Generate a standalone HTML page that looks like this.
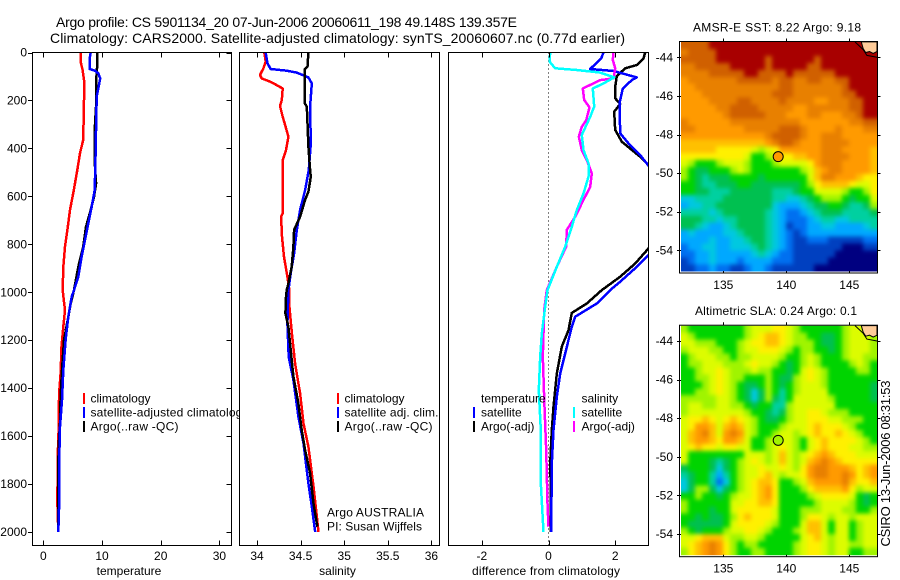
<!DOCTYPE html>
<html>
<head>
<meta charset="utf-8">
<title>Argo profile</title>
<style>
html,body{margin:0;padding:0;background:#fff;}
svg{display:block;font-family:"Liberation Sans",sans-serif;font-size:12px;fill:#000;}
text{fill:#000;}
</style>
</head>
<body>
<svg id="chart" xmlns="http://www.w3.org/2000/svg" width="900" height="580" viewBox="0 0 900 580">
  <defs>
    <clipPath id="clip-temp"><rect x="32.5" y="52.5" width="199" height="493"/></clipPath>
    <clipPath id="clip-sal"><rect x="239.5" y="52.5" width="200" height="493"/></clipPath>
    <clipPath id="clip-diff"><rect x="448.5" y="52.5" width="200" height="493"/></clipPath>
    <clipPath id="clip-map-sst"><rect x="681" y="42" width="196.5" height="229.5"/></clipPath>
    <clipPath id="clip-map-sla"><rect x="681" y="325.7" width="196.5" height="229.5"/></clipPath>
    <filter id="soften" filterUnits="userSpaceOnUse" x="640" y="0" width="260" height="580" color-interpolation-filters="sRGB">
      <feGaussianBlur stdDeviation="2"/>
    </filter>
  </defs>
  <rect x="0" y="0" width="900" height="580" fill="#fff"/>
  <text x="56" y="27" font-size="14" textLength="461" lengthAdjust="spacing">Argo profile: CS 5901134_20 07-Jun-2006 20060611_198 49.148S 139.357E</text>
  <text x="50" y="43" font-size="14" textLength="575" lengthAdjust="spacing">Climatology: CARS2000. Satellite-adjusted climatology: synTS_20060607.nc (0.77d earlier)</text>

  <g id="panel-temp">
    <g id="marks-temp" clip-path="url(#clip-temp)"></g>
    <g id="ticks-temp"></g>
    <rect x="32.5" y="52.5" width="199" height="493" fill="none" stroke="#000"/>
    <g>
      <rect x="83" y="393" width="2" height="11" fill="#f00"/>
      <rect x="83" y="407" width="2" height="11" fill="#00f"/>
      <rect x="83" y="421" width="2" height="11" fill="#000"/>
      <text x="90.5" y="402.5">climatology</text>
      <text x="90.5" y="416.5" textLength="158" lengthAdjust="spacing">satellite-adjusted climatology</text>
      <text x="90.5" y="430.5" textLength="88" lengthAdjust="spacing">Argo(..raw -QC)</text>
    </g>
    <text x="129" y="575" text-anchor="middle">temperature</text>
  </g>

  <g id="panel-sal">
    <rect x="239.5" y="52.5" width="200" height="493" fill="#fff"/>
    <g id="marks-sal" clip-path="url(#clip-sal)"></g>
    <g id="ticks-sal"></g>
    <rect x="239.5" y="52.5" width="200" height="493" fill="none" stroke="#000"/>
    <g>
      <rect x="337" y="393" width="2" height="11" fill="#f00"/>
      <rect x="337" y="407" width="2" height="11" fill="#00f"/>
      <rect x="337" y="421" width="2" height="11" fill="#000"/>
      <text x="344.5" y="402.5">climatology</text>
      <text x="344.5" y="416.5" textLength="94" lengthAdjust="spacing">satellite adj. clim.</text>
      <text x="344.5" y="430.5" textLength="88" lengthAdjust="spacing">Argo(..raw -QC)</text>
    </g>
    <text x="327" y="516.5" textLength="97" lengthAdjust="spacing">Argo AUSTRALIA</text>
    <text x="327" y="530.5" textLength="95" lengthAdjust="spacing">PI: Susan Wijffels</text>
    <text x="337.5" y="575" text-anchor="middle">salinity</text>
  </g>

  <g id="panel-diff">
    <rect x="448.5" y="52.5" width="200" height="493" fill="#fff"/>
    <line x1="548.5" y1="52.5" x2="548.5" y2="545.5" stroke="#000" stroke-width="1" stroke-dasharray="1 3"/>
    <g id="marks-diff" clip-path="url(#clip-diff)"></g>
    <g id="ticks-diff"></g>
    <rect x="448.5" y="52.5" width="200" height="493" fill="none" stroke="#000"/>
    <g>
      <text x="481" y="402.5">temperature</text>
      <rect x="473" y="407" width="2" height="11" fill="#00f"/>
      <rect x="473" y="421" width="2" height="11" fill="#000"/>
      <text x="481" y="416.5">satellite</text>
      <text x="481" y="430.5">Argo(-adj)</text>
      <text x="581.5" y="402.5">salinity</text>
      <rect x="573" y="407" width="2" height="11" fill="#0ff"/>
      <rect x="573" y="421" width="2" height="11" fill="#f0f"/>
      <text x="581.5" y="416.5">satellite</text>
      <text x="581.5" y="430.5">Argo(-adj)</text>
    </g>
    <text x="546" y="575" text-anchor="middle" textLength="148" lengthAdjust="spacing">difference from climatology</text>
  </g>

  <text x="693" y="31.5" textLength="168" lengthAdjust="spacing">AMSR-E SST: 8.22  Argo: 9.18</text>
  <g id="map-sst"></g>
  <text x="695" y="315" textLength="162" lengthAdjust="spacing">Altimetric SLA: 0.24  Argo: 0.1</text>
  <g id="map-sla"></g>
  <text transform="translate(890 546.5) rotate(-90)" textLength="166" lengthAdjust="spacing" font-size="13">CSIRO 13-Jun-2006 08:31:53</text>
</svg>

<script>
// ---- profile data ----
const depthTicks = [0, 200, 400, 600, 800, 1000, 1200, 1400, 1600, 1800, 2000];
const tempTicks = [0, 10, 20, 30];
const salTicks = [34, 34.5, 35, 35.5, 36];
const diffTicks = [-2, 0, 2];

const tempClimDepth = [0, 38, 73, 115, 198, 365, 420, 490, 574, 657, 740, 810, 894, 991, 1033, 1074, 1144, 1227, 1339, 1422, 1575, 1686, 1881, 2000];
const tempClimValue = [6.36, 6.36, 6.7, 6.93, 6.93, 6.8, 6.25, 5.8, 5.2, 4.55, 4.1, 3.7, 3.4, 3.3, 3.5, 3.7, 3.4, 3.1, 2.95, 2.7, 2.6, 2.45, 2.4, 2.55];
const tempArgoDepth = [0, 59, 73, 143, 198, 323, 476, 546, 602, 657, 727, 810, 894, 991, 1047, 1116, 1199, 1325, 1436, 1547, 1644, 1769, 2000];
const tempArgoValue = [9.2, 9.2, 9.1, 9.0, 9.05, 8.75, 8.8, 9.0, 8.64, 8.07, 7.27, 6.8, 5.97, 5.23, 4.66, 4.15, 3.52, 3.18, 2.95, 2.84, 2.6, 2.55, 2.55];
const tempSatDepth = [0, 24, 69, 76, 87, 108, 150, 184, 309, 476, 574, 643, 713, 782, 852, 935, 991, 1019, 1102, 1199, 1325, 1450, 1561, 1686, 1866, 2000];
const tempSatValue = [8.07, 7.9, 7.9, 8.8, 9.375, 9.7, 9.375, 9.1, 9.0, 8.86, 8.75, 8.24, 7.67, 7.1, 6.53, 5.97, 5.23, 4.83, 4.26, 3.8, 3.41, 3.18, 2.84, 2.73, 2.73, 2.55];

const salClimDepth = [0, 38, 66, 94, 108, 122, 136, 150, 198, 223, 268, 302, 351, 407, 449, 671, 685, 768, 852, 935, 991, 1060, 1172, 1297, 1422, 1547, 1644, 1811, 1908, 2000];
const salClimValue = [34.084, 34.1, 34.073, 34.034, 34.054, 34.15, 34.226, 34.295, 34.284, 34.264, 34.295, 34.322, 34.36, 34.333, 34.295, 34.295, 34.276, 34.287, 34.31, 34.349, 34.372, 34.372, 34.4, 34.437, 34.494, 34.533, 34.59, 34.648, 34.678, 34.705];
const salSatDepth = [0, 45, 69, 76, 84, 104, 129, 226, 379, 490, 574, 657, 740, 838, 921, 991, 1130, 1269, 1366, 1519, 1630, 1797, 1894, 2000];
const salSatValue = [34.1, 34.119, 34.157, 34.341, 34.456, 34.59, 34.628, 34.609, 34.617, 34.594, 34.552, 34.494, 34.456, 34.425, 34.387, 34.36, 34.349, 34.364, 34.418, 34.475, 34.533, 34.59, 34.628, 34.667];
const salArgoDepth = [0, 59, 69, 212, 226, 296, 393, 490, 518, 581, 615, 685, 740, 810, 894, 963, 991, 1019, 1088, 1144, 1241, 1352, 1464, 1575, 1658, 1755, 1881, 1978];
const salArgoValue = [34.59, 34.579, 34.548, 34.548, 34.571, 34.579, 34.59, 34.609, 34.617, 34.59, 34.552, 34.494, 34.425, 34.418, 34.398, 34.36, 34.341, 34.333, 34.326, 34.36, 34.387, 34.418, 34.475, 34.513, 34.552, 34.609, 34.648, 34.693];

const diffTempSatDepth = [0, 24, 69, 77, 104, 115, 150, 212, 337, 379, 428, 472, 574, 700, 790, 845, 894, 956, 991, 1047, 1102, 1144, 1255, 1339, 1436, 1575, 1714, 2000];
const diffTempSatValue = [1.65, 1.58, 1.25, 1.95, 2.65, 2.5, 2.23, 2.13, 2.15, 2.4, 2.75, 3.0, 3.5, 3.6, 3.2, 3.0, 2.65, 2.15, 1.85, 1.45, 0.8, 0.7, 0.5, 0.35, 0.25, 0.15, 0.1, 0.08];
const diffTempArgoDepth = [0, 24, 52, 66, 98, 143, 191, 215, 247, 323, 372, 435, 469, 574, 700, 817, 880, 935, 991, 1047, 1086, 1158, 1227, 1339, 1478, 1575, 1714, 1825, 2000];
const diffTempArgoValue = [2.9, 2.85, 2.65, 2.3, 2.05, 2.0, 2.0, 2.15, 1.97, 2.0, 2.2, 2.75, 3.0, 3.4, 3.55, 3.0, 2.6, 2.15, 1.6, 1.15, 0.7, 0.6, 0.4, 0.25, 0.15, 0.1, 0.05, 0.07, 0.07];
const diffSalSatDepth = [0, 38, 66, 73, 84, 104, 129, 150, 226, 268, 344, 407, 462, 518, 588, 657, 727, 810, 894, 991, 1060, 1172, 1269, 1408, 1575, 1797, 2000];
const diffSalSatValue = [0.05, 0.03, 0.2, 0.85, 1.55, 1.97, 1.65, 1.33, 1.37, 1.25, 1.0, 1.05, 1.2, 1.2, 1.05, 0.85, 0.7, 0.5, 0.25, -0.03, -0.1, -0.2, -0.25, -0.29, -0.23, -0.23, -0.15];
const diffSalArgoDepth = [0, 31, 66, 108, 115, 150, 198, 229, 282, 310, 351, 407, 449, 504, 560, 615, 685, 740, 810, 894, 991, 1074, 1269, 1478, 1658, 1881, 1978];
const diffSalArgoValue = [1.95, 1.93, 2.0, 1.95, 1.55, 1.03, 1.07, 1.23, 1.13, 1.0, 0.91, 1.0, 1.15, 1.3, 1.25, 1.05, 0.8, 0.55, 0.53, 0.25, -0.05, -0.13, -0.17, -0.12, -0.07, -0.03, 0];

// ---- map data ----
const lonTicks = [135, 140, 145];
const latTicks = [-44, -46, -48, -50, -52, -54];
const argoLon = 139.357;
const argoLat = -49.148;
const argoSstLevel = 12;
const argoSlaLevel = 8;
const coastLon = [145.45, 146.1, 146.4, 147.2];
const coastLat = [-43.2, -43.6, -43.9, -44.0];
const landLon = [145.95, 147.2, 147.2, 146.9, 146.6, 146.3, 146.1];
const landLat = [-43.2, -43.2, -43.7, -43.8, -43.7, -43.75, -43.55];

const sstRows = [
[14,14,14,14,15,15,15,15,15,15,15,15,15,15,15,15,15,15,15,15,15,15,15,15,15,15,15,15],
[13,14,14,14,14,15,15,15,15,15,15,15,15,15,15,15,15,15,15,15,15,15,15,15,15,15,15,15],
[14,14,14,14,14,15,15,15,15,15,15,15,14,15,15,15,15,15,15,14,15,15,15,15,15,15,15,15],
[13,13,14,14,14,14,14,15,15,15,15,15,14,15,15,15,15,15,14,14,15,15,15,15,15,15,15,15],
[13,13,13,13,14,14,14,14,14,15,15,14,14,14,14,15,14,14,14,14,14,14,15,15,15,15,15,15],
[12,13,13,13,13,13,13,13,14,14,14,14,14,13,14,14,13,13,14,14,13,13,14,14,15,15,15,15],
[12,12,13,13,13,13,13,13,13,13,13,13,13,13,14,14,13,13,13,13,13,13,13,14,15,15,15,15],
[12,12,12,13,13,13,13,13,13,13,13,13,13,14,14,14,13,13,13,13,13,13,13,14,14,15,15,15],
[12,12,12,12,13,13,13,13,14,14,13,13,13,13,14,13,13,13,13,12,12,13,13,13,14,14,15,15],
[12,12,12,12,12,13,13,14,14,14,14,13,13,13,13,13,12,12,13,13,13,13,13,13,14,14,15,15],
[12,12,12,12,12,12,13,14,14,14,14,14,13,13,13,12,12,12,13,13,12,12,12,13,13,14,15,15],
[13,12,12,12,12,12,12,13,13,13,13,13,13,13,13,13,13,12,12,12,12,12,12,12,13,13,14,14],
[13,13,12,12,12,12,12,12,12,13,13,13,13,13,14,14,14,13,12,12,12,12,13,12,12,12,13,13],
[12,12,12,12,12,12,12,12,12,12,12,12,13,14,14,14,14,13,12,12,13,13,13,12,12,12,12,12],
[11,11,11,11,11,11,11,11,11,11,11,11,12,13,14,14,13,12,12,12,13,13,13,13,12,12,12,12],
[11,11,11,11,11,10,10,10,10,10,9,8,9,10,12,12,12,12,12,12,13,13,13,12,12,12,12,11],
[10,10,10,10,10,10,10,10,10,9,7,7,8,9,10,10,11,11,12,12,13,13,13,13,12,12,12,11],
[9,8,7,7,7,8,9,9,9,8,7,7,7,8,9,9,9,9,10,12,13,13,13,12,12,12,12,11],
[8,7,6,6,7,7,7,8,9,8,7,7,7,7,7,7,7,8,9,11,12,13,13,12,12,12,12,11],
[8,7,6,5,6,6,6,7,7,7,7,6,7,7,7,7,7,7,9,11,13,13,12,12,12,11,10,10],
[7,7,6,5,5,6,6,6,7,7,6,6,6,6,6,6,6,7,8,10,11,11,11,11,10,9,9,10],
[7,7,6,6,5,5,5,6,6,6,6,6,6,5,5,5,6,7,7,9,9,9,9,8,7,7,8,10],
[4,4,5,5,5,5,6,6,6,6,6,6,6,5,5,4,4,5,6,7,8,8,8,7,6,7,7,9],
[3,4,4,5,5,6,6,6,6,6,6,6,6,4,3,3,3,4,5,6,6,7,7,6,5,5,6,8],
[5,5,5,5,4,5,6,6,6,6,6,6,5,4,3,2,2,3,4,5,6,6,6,5,5,5,5,6],
[6,6,6,5,5,4,5,5,6,6,6,6,5,4,3,2,2,2,3,4,5,5,4,4,5,5,5,5],
[6,6,5,4,3,3,4,5,6,6,6,6,5,4,3,1,2,2,3,3,4,4,3,3,3,3,4,5],
[3,4,3,3,3,3,4,4,5,6,6,6,5,4,3,2,1,2,3,3,3,3,3,3,3,3,3,3],
[3,3,3,3,4,3,3,4,4,5,6,6,5,4,3,2,1,1,2,2,2,1,1,1,1,1,2,2],
[2,3,3,4,4,3,3,4,4,4,5,6,5,4,3,2,1,1,1,1,1,1,1,0,0,0,1,1],
[2,2,3,3,4,3,3,3,3,3,4,5,4,3,2,2,1,1,1,1,1,1,0,0,0,0,0,0],
[1,2,3,3,4,3,3,3,2,3,3,3,3,2,2,2,1,1,1,1,1,0,0,0,0,0,0,0],
[1,1,2,2,3,2,2,1,1,2,3,3,2,1,1,1,1,1,1,0,0,0,0,0,0,0,0,0]
];

const slaRows = [
[8,7,7,7,7,7,7,7,7,8,9,9,9,10,10,9,8,7,7,7,7,7,7,8,9,9,8,8],
[9,8,7,7,7,7,7,7,7,8,9,10,11,11,10,9,8,8,7,7,6,6,7,8,9,9,9,8],
[9,9,8,8,8,7,7,7,8,9,10,10,11,11,10,9,8,8,8,7,6,6,7,8,9,9,9,8],
[8,9,9,9,8,8,7,7,8,9,9,10,10,10,9,8,7,8,8,7,7,6,7,8,9,9,9,8],
[7,8,9,9,9,8,8,7,8,8,9,9,9,9,8,7,7,8,9,8,7,7,7,8,9,9,8,8],
[7,8,8,9,9,9,8,8,8,9,10,9,9,8,7,6,7,8,9,8,7,7,7,7,8,9,8,7],
[7,7,8,9,9,10,9,8,8,8,9,8,8,7,7,6,7,9,10,9,8,7,7,7,7,8,8,7],
[7,7,8,8,9,10,9,8,8,7,7,7,8,7,6,6,8,9,10,9,8,7,7,7,7,7,7,7],
[7,7,7,8,9,10,9,8,7,6,6,7,8,7,6,7,8,9,9,9,8,7,7,7,7,7,7,6],
[7,7,8,8,9,10,9,8,7,6,4,6,8,7,5,7,8,9,9,9,9,7,7,7,7,7,7,6],
[8,8,8,8,8,9,9,8,7,6,4,6,8,6,5,7,9,9,9,9,9,8,7,7,7,7,7,6],
[8,9,9,8,8,9,9,8,8,7,6,7,7,5,5,8,9,9,9,9,9,9,7,7,7,7,7,7],
[8,9,9,9,9,9,9,9,9,8,7,7,6,5,6,8,9,9,10,10,9,8,8,8,7,7,7,7],
[9,10,10,11,10,9,10,11,10,9,8,7,6,6,7,8,9,9,10,10,10,9,9,8,8,8,7,7],
[9,10,12,12,11,9,11,12,11,9,8,7,7,7,8,9,9,9,10,11,10,10,10,9,8,7,7,7],
[9,11,12,13,11,9,12,13,12,9,8,7,7,8,9,9,8,9,10,11,10,10,11,10,9,8,7,7],
[9,11,12,12,11,10,12,12,11,9,7,7,8,9,9,9,8,7,9,10,11,10,10,10,10,9,8,7],
[9,10,11,10,10,9,10,10,9,9,7,7,8,9,10,9,8,7,9,10,11,10,10,10,9,9,8,8],
[9,7,7,7,7,7,7,7,7,9,9,9,8,9,11,9,8,9,10,11,12,11,10,10,10,9,9,9],
[9,7,7,7,6,5,6,7,8,9,10,9,8,9,11,9,8,9,11,12,13,12,11,10,10,10,10,10],
[6,7,7,7,6,4,6,7,8,9,9,10,9,9,10,9,8,10,12,13,13,12,12,12,11,10,11,12],
[5,6,7,7,5,3,5,7,8,9,9,10,11,9,8,9,9,10,12,13,13,12,12,13,12,10,11,12],
[4,6,7,7,5,2,4,7,8,9,10,11,11,10,7,7,8,9,11,12,12,12,12,13,11,10,10,11],
[4,6,8,8,6,4,6,7,8,9,10,11,12,10,7,7,7,8,10,11,11,11,11,12,10,8,9,9],
[7,7,8,7,7,6,7,8,9,9,10,11,12,10,7,7,7,7,8,9,10,10,10,10,9,7,6,7],
[8,7,7,7,7,7,7,9,9,10,10,11,11,10,7,7,7,7,7,8,9,9,9,9,8,7,6,7],
[8,7,7,7,6,7,7,9,10,10,10,10,10,9,7,7,7,8,8,8,9,9,9,8,8,7,7,8],
[7,7,6,7,6,6,7,8,10,11,10,10,10,9,7,7,7,8,10,10,9,8,9,9,8,9,9,9],
[7,6,6,6,6,6,7,9,10,10,10,10,9,8,7,7,7,9,11,11,9,7,9,9,7,8,9,9],
[8,7,6,7,7,7,8,9,9,10,10,9,8,7,7,7,8,9,11,11,9,7,9,9,7,8,9,9],
[9,9,10,11,11,11,9,8,8,9,9,8,7,7,7,7,7,9,10,11,9,8,9,9,7,8,9,9],
[9,10,11,12,13,12,10,8,7,8,8,7,7,7,7,7,8,9,10,10,9,8,9,9,8,8,9,9],
[8,10,11,12,13,12,10,8,7,7,8,8,7,7,7,7,8,9,10,10,9,8,9,9,7,7,8,8]
];

// ---- styling / layout constants ----
const levelColors = ['#000080','#0040c0','#0070f0','#00a8ff','#00c8e0','#00d0a0','#00c050','#00d400','#a0f400','#dcfc00','#fff000','#ffc000','#ff9a00','#e88000','#d06000','#a80000'];
const SVGNS = 'http://www.w3.org/2000/svg';
const PANEL_TOP = 52.5, PANEL_BOTTOM = 545.5;
const EDGE_BLEED = 12;

// ---- axis functions ----
const depthToY = d => 52.5 + d * 0.23975;
const tempToX = t => 43.3 + t * 5.87;
const salToX = s => 257 + (s - 34) * 87.2;
const diffToX = v => 548.5 + v * 33.33;
const lonToX = lon => 723.3 + (lon - 135) * 12.6;
const latToYSst = lat => 57.3 + (-44 - lat) * 19.3;
const latToYSla = lat => 341 + (-44 - lat) * 19.3;
const CELL_LON = 7 / 12.6;
const CELL_LAT = 6.95 / 19.3;
const MAP_LON0 = 135 + (681 - 723.3) / 12.6;
const MAP_LAT0 = -44 + (57.3 - 42) / 19.3;

function mk(tag, attrs, parent) {
  const e = document.createElementNS(SVGNS, tag);
  for (const k in attrs) e.setAttribute(k, attrs[k]);
  parent.appendChild(e);
  return e;
}

function drawProfile(parent, name, values, depths, toX, color) {
  const pts = values.map((v, i) => toX(v).toFixed(1) + ',' + depthToY(depths[i]).toFixed(1)).join(' ');
  const line = mk('polyline', {points: pts, fill: 'none', stroke: color, 'stroke-width': 2.5, 'shape-rendering': 'crispEdges', 'stroke-linejoin': 'round'}, parent);
  
  
}

function drawXTicks(parent, ticks, toX, fmt) {
  ticks.forEach(t => {
    const x = Math.round(toX(t)) + 0.5;
    const top = mk('line', {x1: x, x2: x, y1: PANEL_TOP, y2: PANEL_TOP + 5, stroke: '#000'}, parent);
    
    
    const bot = mk('line', {x1: x, x2: x, y1: PANEL_BOTTOM, y2: PANEL_BOTTOM - 5, stroke: '#000'}, parent);
    
    
    const lab = mk('text', {x: toX(t), y: 560, 'text-anchor': 'middle'}, parent);
    lab.textContent = fmt(t);
    
    
  });
}

// ---- profile panels ----
const marksTemp = document.getElementById('marks-temp');
drawProfile(marksTemp, 'temperature-climatology-line', tempClimValue, tempClimDepth, tempToX, '#ff0000');
drawProfile(marksTemp, 'temperature-argo-line', tempArgoValue, tempArgoDepth, tempToX, '#000000');
drawProfile(marksTemp, 'temperature-satellite-line', tempSatValue, tempSatDepth, tempToX, '#0000ff');

const marksSal = document.getElementById('marks-sal');
drawProfile(marksSal, 'salinity-climatology-line', salClimValue, salClimDepth, salToX, '#ff0000');
drawProfile(marksSal, 'salinity-satellite-line', salSatValue, salSatDepth, salToX, '#0000ff');
drawProfile(marksSal, 'salinity-argo-line', salArgoValue, salArgoDepth, salToX, '#000000');

const marksDiff = document.getElementById('marks-diff');
drawProfile(marksDiff, 'temperature-argo-difference-line', diffTempArgoValue, diffTempArgoDepth, diffToX, '#000000');
drawProfile(marksDiff, 'temperature-satellite-difference-line', diffTempSatValue, diffTempSatDepth, diffToX, '#0000ff');
drawProfile(marksDiff, 'salinity-argo-difference-line', diffSalArgoValue, diffSalArgoDepth, diffToX, '#ff00ff');
drawProfile(marksDiff, 'salinity-satellite-difference-line', diffSalSatValue, diffSalSatDepth, diffToX, '#00ffff');

const ticksTemp = document.getElementById('ticks-temp');
drawXTicks(ticksTemp, tempTicks, tempToX, String);
drawXTicks(document.getElementById('ticks-sal'), salTicks, salToX, String);
drawXTicks(document.getElementById('ticks-diff'), diffTicks, diffToX, String);

depthTicks.forEach(d => {
  const y = Math.round(depthToY(d)) + 0.5;
  const left = mk('line', {x1: 28, x2: 32.5, y1: y, y2: y, stroke: '#000'}, ticksTemp);
  
  
  const right = mk('line', {x1: 226.5, x2: 231.5, y1: y, y2: y, stroke: '#000'}, ticksTemp);
  
  
  const lab = mk('text', {x: 27, y: depthToY(d) + 4, 'text-anchor': 'end'}, ticksTemp);
  lab.textContent = String(d);
  
  
});

// ---- maps ----
function drawMap(groupId, rows, latToY, argoLevel, labelY, prefix) {
  const g = document.getElementById(groupId);
  const frameTop = latToY(MAP_LAT0) - 0.5;
  const frameBottom = frameTop + 231.5;
  const clipper = mk('g', {'clip-path': 'url(#clip-' + groupId + ')'}, g);
  
  
  const cells = mk('g', {'shape-rendering': 'crispEdges', filter: 'url(#soften)'}, clipper);
  
  
  rows.forEach((row, r) => {
    row.forEach((v, c) => {
      const lon = MAP_LON0 + c * CELL_LON;
      const lat = MAP_LAT0 - r * CELL_LAT;
      let x = lonToX(lon), y = latToY(lat);
      let w = CELL_LON * 12.6 + 0.4, h = CELL_LAT * 19.3 + 0.4;
      if (c === 0) { x -= EDGE_BLEED; w += EDGE_BLEED; }
      if (c === row.length - 1) { w += EDGE_BLEED; }
      if (r === 0) { y -= EDGE_BLEED; h += EDGE_BLEED; }
      if (r === rows.length - 1) { h += EDGE_BLEED; }
      const cell = mk('rect', {x: x.toFixed(2), y: y.toFixed(2), width: w.toFixed(2), height: h.toFixed(2), fill: levelColors[v]}, cells);
      
      
    });
  });
  const land = mk('polygon', {points: landLon.map((lo, i) => lonToX(lo).toFixed(1) + ',' + latToY(landLat[i]).toFixed(1)).join(' '), fill: '#ffcc99', stroke: '#000', 'stroke-width': 1}, g);
  
  
  const coast = mk('polyline', {points: coastLon.map((lo, i) => lonToX(lo).toFixed(1) + ',' + latToY(coastLat[i]).toFixed(1)).join(' '), fill: 'none', stroke: '#000', 'stroke-width': 1}, g);
  
  

  const frame = mk('rect', {x: 679.5, y: frameTop, width: 198, height: 231.5, fill: 'none', stroke: '#000'}, g);
  
  

  lonTicks.forEach(lon => {
    const x = Math.round(lonToX(lon)) + 0.5;
    const top = mk('line', {x1: x, x2: x, y1: frameTop - 3, y2: frameTop, stroke: '#000'}, g);
    
    
    const bot = mk('line', {x1: x, x2: x, y1: frameBottom - 2, y2: frameBottom, stroke: '#000'}, g);
    
    
    const lab = mk('text', {x: lonToX(lon), y: labelY, 'text-anchor': 'middle'}, g);
    lab.textContent = String(lon);
    
    
  });
  latTicks.forEach(lat => {
    const y = Math.round(latToY(lat)) + 0.5;
    const left = mk('line', {x1: 677, x2: 681, y1: y, y2: y, stroke: '#000'}, g);
    
    
    const right = mk('line', {x1: 877.5, x2: 880.5, y1: y, y2: y, stroke: '#000'}, g);
    
    
    const lab = mk('text', {x: 673, y: latToY(lat) + 4, 'text-anchor': 'end'}, g);
    lab.textContent = String(lat);
    
    
  });
  const marker = mk('circle', {cx: lonToX(argoLon), cy: latToY(argoLat), r: 5, fill: levelColors[argoLevel], stroke: '#000', 'stroke-width': 1}, g);
  
  
}

drawMap('map-sst', sstRows, latToYSst, argoSstLevel, 289, 'sst-map');
drawMap('map-sla', slaRows, latToYSla, argoSlaLevel, 572.5, 'sla-map');
</script>
</body>
</html>
